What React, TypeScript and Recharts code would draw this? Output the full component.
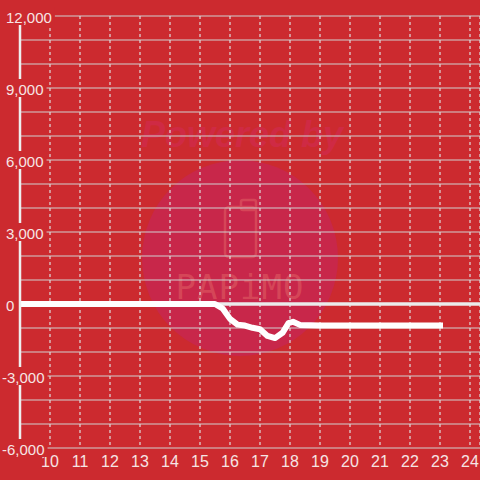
import React from "react";
import { LineChart, Line, XAxis, YAxis, CartesianGrid, ReferenceLine } from "recharts";

const hours = [9, 10, 11, 12, 13, 14, 15, 15.5, 15.75, 16, 16.25, 16.5, 16.75, 17, 17.25, 17.5, 17.75, 17.95, 18.1, 18.35, 19, 20, 21, 22, 23.1];
const values = [0, 0, 0, 0, 0, 0, 0, 0, -180, -620, -860, -900, -990, -1050, -1330, -1420, -1200, -800, -740, -880, -900, -900, -900, -900, -900];
const xTicks = [10, 11, 12, 13, 14, 15, 16, 17, 18, 19, 20, 21, 22, 23, 24];
const yGridTicks = [-6000, -5000, -4000, -3000, -2000, -1000, 0, 1000, 2000, 3000, 4000, 5000, 6000, 7000, 8000, 9000, 10000, 11000, 12000];
const yLabelStep = 3000;

const data = hours.map((h, i) => ({ h, v: values[i] }));

const BG = "#cc2a2f";
const LABEL = "#f6e4e4";
const FONT = "'Liberation Sans', Arial, sans-serif";

const fmt = (v: number) => v.toLocaleString("en-US");

function textWidth(s: string, size: number) {
  let w = 0;
  for (const c of s) {
    if (c === ",") w += 0.278 * size;
    else if (c === "-") w += 0.333 * size;
    else w += 0.556 * size;
  }
  return w;
}

const YTick = (props: any) => {
  const { y, payload } = props;
  const v = payload.value as number;
  if (v % yLabelStep !== 0) return <g />;
  const s = fmt(v);
  const startX = v < 0 ? 2 : 6;
  const w = textWidth(s, 15);
  return (
    <g>
      <rect x={0} y={y - 9} width={startX + w + 3} height={18} fill={BG} />
      <text x={startX} y={y + 1} fill={LABEL} fontSize={15} fontFamily={FONT} textAnchor="start" dominantBaseline="central">
        {s}
      </text>
    </g>
  );
};

const XTick = (props: any) => {
  const { x, payload } = props;
  return (
    <text x={x} y={467} fill={LABEL} fontSize={16} fontFamily={FONT} textAnchor="middle">
      {payload.value}
    </text>
  );
};

const Watermark = () => (
  <svg width={480} height={480} style={{ position: "absolute", left: 0, top: 0 }}>
    <rect x={0} y={0} width={480} height={480} fill={BG} />
    <circle cx={240} cy={258} r={98} fill="#c8274a" />
    <text x={242} y={147} textAnchor="middle" fontSize={36} fontWeight="bold" fontStyle="italic" fontFamily={FONT} fill="#cf2a44">
      Powered by
    </text>
    <rect x={225} y={207} width={31} height={50} rx={4} fill="none" stroke="#d54658" strokeWidth={2.5} />
    <rect x={241} y={200} width={15} height={10} rx={2} fill="none" stroke="#d54658" strokeWidth={2.5} />
    <text x={240} y={299} textAnchor="middle" fontSize={34} fontFamily="'DejaVu Sans Mono', monospace" fill="#d54658" letterSpacing={1}>
      PAPiMO
    </text>
  </svg>
);

export default function App() {
  return (
    <div style={{ position: "absolute", left: 0, top: 0, width: 480, height: 480, background: BG }}>
      <Watermark />
      <div style={{ position: "absolute", left: 0, top: 0 }}>
        <LineChart width={480} height={480} data={data} margin={{ top: 16, right: 0, bottom: 0, left: 0 }}>
          <CartesianGrid horizontal={true} vertical={false} stroke="#cfcfcf" strokeWidth={1.2} />
          <CartesianGrid horizontal={false} vertical={true} stroke="#dedede" strokeDasharray="3 3" strokeWidth={1.2} />
          <XAxis
            dataKey="h"
            type="number"
            domain={[9, 24.3333]}
            ticks={xTicks}
            interval={0}
            allowDataOverflow
            axisLine={false}
            tickLine={false}
            height={32}
            tick={<XTick />}
          />
          <YAxis
            type="number"
            domain={[-6000, 12000]}
            ticks={yGridTicks}
            interval={0}
            allowDataOverflow
            width={20}
            axisLine={{ stroke: "#eeeeee", strokeWidth: 2.5 }}
            tickLine={false}
            tick={<YTick />}
          />
          <ReferenceLine y={0} stroke="#ebebeb" strokeWidth={3.5} />
          <Line
            type="linear"
            dataKey="v"
            stroke="#ffffff"
            strokeWidth={6}
            strokeLinejoin="round"
            dot={false}
            activeDot={false}
            isAnimationActive={false}
          />
        </LineChart>
      </div>
    </div>
  );
}
